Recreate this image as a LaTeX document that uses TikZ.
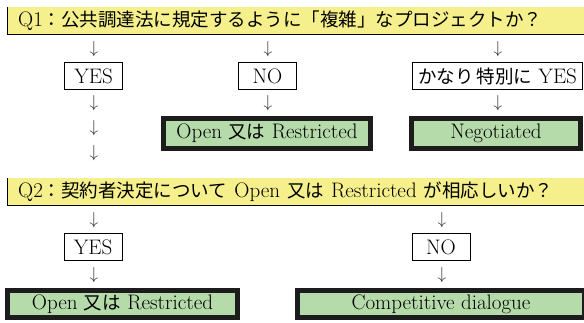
\documentclass[tikz,border=0pt]{standalone}
\usepackage{fontspec}
\newfontfamily\jp{Noto Sans CJK JP}
\newcommand\jtxt[1]{{\jp\fontsize{18.5}{22}\selectfont #1}}
\definecolor{barY}{HTML}{F5EF8C}
\definecolor{boxG}{HTML}{B6DBAA}
\definecolor{edgeD}{HTML}{1C1C1C}
\tikzset{
  bar/.style={anchor=north west, fill=barY, minimum height=27pt, text width=590pt, align=left, inner xsep=11pt, inner ysep=0pt, font=\fontsize{21}{24}\selectfont},
  bareedge/.style={line width=0.9pt, black},
  ansbox/.style={draw=black, line width=0.9pt, fill=white, minimum height=27pt, inner sep=0pt, font=\fontsize{21}{24}\selectfont},
  resbox/.style={draw=edgeD, line width=5pt, fill=boxG, inner sep=0pt, font=\fontsize{21}{24}\selectfont},
  darr/.style={inner sep=0pt, text=black!80, font=\fontsize{17}{20}\selectfont}
}
\begin{document}
\begin{tikzpicture}[x=1pt,y=-1pt]
\useasboundingbox (0,0) rectangle (584,323);
\clip (0,0) rectangle (584,323);
% Q1 bar
\node[bar] (q1) at (7,7) {Q1\jtxt{：公共調達法に規定するように「複雑」なプロジェクトか？}};
\draw[bareedge] (q1.north west) -- (q1.south west) -- (q1.south east);
% Q1 arrows
\node[darr] (a11) at (94,49) {$\downarrow$};
\node[darr] (a12) at (268,49) {$\downarrow$};
\node[darr] (a13) at (498,49) {$\downarrow$};
% answers row 1
\node[ansbox, minimum width=58pt] (yes1) at (93.5,76) {YES};
\node[ansbox, minimum width=58pt] (no1) at (267.5,76) {NO};
\node[ansbox, minimum width=170pt] (sp1) at (497.5,76) {\jtxt{かなり\,特別に} YES};
% arrows row 2
\node[darr] (a21) at (94,103.5) {$\downarrow$};
\node[darr] (a22) at (268,103.5) {$\downarrow$};
\node[darr] (a23) at (498,103.5) {$\downarrow$};
\node[darr] (a31) at (94,128.5) {$\downarrow$};
\node[darr] (a41) at (94,153.5) {$\downarrow$};
% results row 1
\node[resbox, minimum width=207pt, minimum height=30pt] (r1) at (267,133.5) {Open \jtxt{又は} Restricted};
\node[resbox, minimum width=169pt, minimum height=30pt] (r2) at (496,133.5) {Negotiated};
% Q2 bar
\node[bar] (q2) at (7,178) {Q2\jtxt{：契約者決定について} Open \jtxt{又は} Restricted \jtxt{が相応しいか？}};
\draw[bareedge] (q2.north west) -- (q2.south west) -- (q2.south east);
% Q2 arrows
\node[darr] (b11) at (94,220) {$\downarrow$};
\node[darr] (b12) at (442,220) {$\downarrow$};
\node[ansbox, minimum width=58pt] (yes2) at (93,247) {YES};
\node[ansbox, minimum width=58pt] (no2) at (441,247) {NO};
\node[darr] (b21) at (94,275) {$\downarrow$};
\node[darr] (b22) at (442,275) {$\downarrow$};
% results row 2
\node[resbox, minimum width=230pt, minimum height=27pt] (r3) at (122.5,304) {Open \jtxt{又は} Restricted};
\node[resbox, minimum width=287pt, minimum height=27pt] (r4) at (441,304) {Competitive dialogue};
\end{tikzpicture}
\end{document}
